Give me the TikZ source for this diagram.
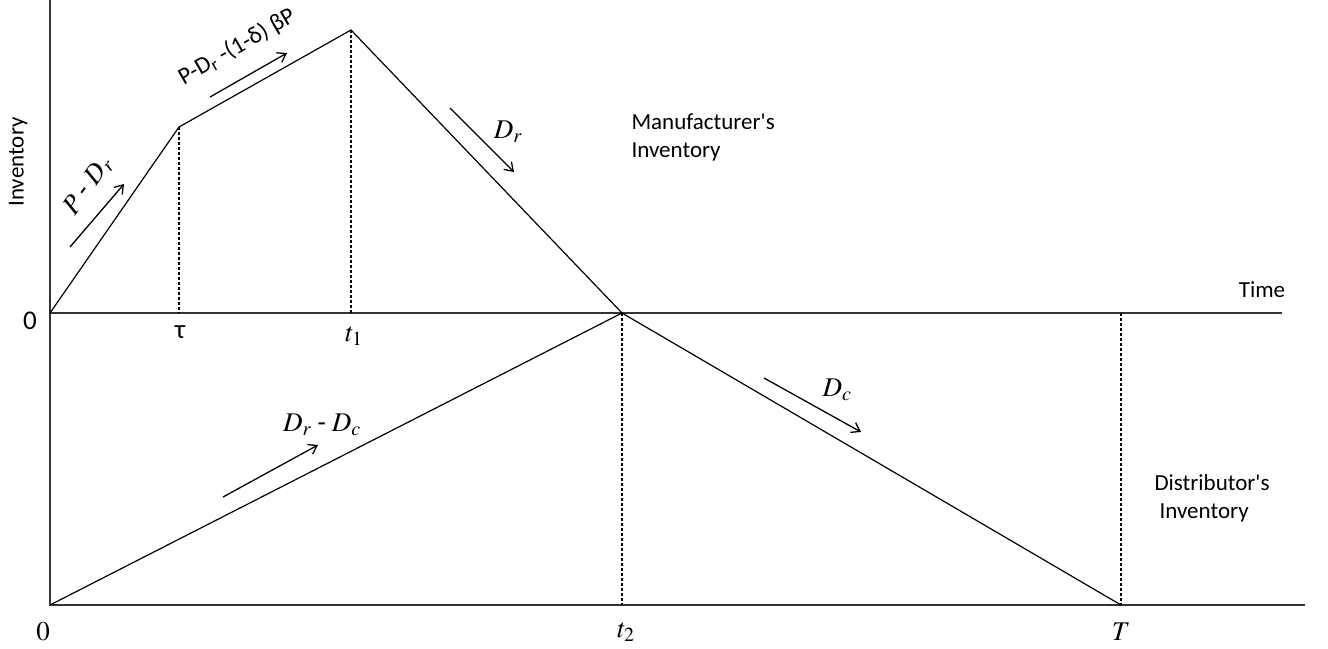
\documentclass[tikz,border=0pt]{standalone}
\usepackage{mathptmx}
\usepackage[no-math]{fontspec}
\setmainfont{Carlito}
\usetikzlibrary{arrows.meta}
\tikzset{
  % axes and lines
  axis/.style={line width=1.4pt,draw=black!80},
  curve/.style={line width=1.2pt},
  guide/.style={dashed,dash pattern=on 3pt off 2pt,line width=1.1pt},
  flow/.style={-{Straight Barb[length=8pt,width=11pt]},line width=1.3pt},
  % label styles
  txt/.style={font=\fontsize{23}{28}\selectfont},
  sym/.style={font=\fontsize{27}{30}\selectfont}
}

\begin{document}
\begin{tikzpicture}[x=1pt,y=-1pt]
  \useasboundingbox (0,0) rectangle (1328,648);

  % key points
  \coordinate (yTop) at (50,0);
  \coordinate (O1)   at (50,313);
  \coordinate (O2)   at (50,605);
  \coordinate (xEnd) at (1282,313);
  \coordinate (bEnd) at (1305,605);
  \coordinate (tauP) at (179,127);
  \coordinate (peak) at (351,30);
  \coordinate (t2P)  at (622,313);
  \coordinate (TP)   at (1121,605);

  % axes
  \draw[axis] (yTop) -- (O2) -- (bEnd);
  \draw[axis] (O1) -- (xEnd);

  % inventory levels
  \draw[curve] (O1) -- (tauP) -- (peak) -- (t2P);
  \draw[curve] (O2) -- (t2P) -- (TP);

  % guides
  \draw[guide] (tauP) -- (tauP |- O1);
  \draw[guide] (peak) -- (peak |- O1);
  \draw[guide] (t2P) -- (t2P |- O2);
  \draw[guide] (TP |- O1) -- (TP);

  % rate arrows
  \coordinate (a1) at (70,247);   \coordinate (b1) at (124,184);
  \coordinate (a2) at (210,97);   \coordinate (b2) at (287,53);
  \coordinate (a3) at (450,108);  \coordinate (b3) at (514,172);
  \coordinate (a4) at (223,497);  \coordinate (b4) at (318,445);
  \coordinate (a5) at (764,378);  \coordinate (b5) at (861,432);
  \draw[flow] (a1) -- (b1);
  \draw[flow] (a2) -- (b2);
  \draw[flow] (a3) -- (b3);
  \draw[flow] (a4) -- (b4);
  \draw[flow] (a5) -- (b5);

  % rate labels
  \node[sym,rotate=55] (rUp)   at (88,186)  {$P$ - $D_{r}$};
  \node[txt,rotate=30,font=\fontsize{24}{28}\selectfont] (rProd) at (237,47) {P-D\textsubscript{r} -(1-δ) βP};
  \node[sym]           (rDr)   at (508,132) {$D_{r}$};
  \node[sym]           (rDrc)  at (322,425) {$D_{r}$ - $D_{c}$};
  \node[sym]           (rDc)   at (837,390) {$D_{c}$};

  % region labels
  \node[txt,anchor=west,align=left] (man) at (628,137) {Manufacturer\textquotesingle s\\Inventory};
  \node[txt,anchor=west,align=left] (dis) at (1151,498) {Distributor\textquotesingle s\\\hspace{5pt}Inventory};
  \node[txt,rotate=90] (inv)  at (18,162)   {Inventory};
  \node[txt]           (time) at (1262,290) {Time};

  % ticks
  \node[sym] (z1)   at (30,321)   {0};
  \node[sym] (tau)  at (180,332)  {τ};
  \node[sym] (t1)   at (354,336)  {$t_{1}$};
  \node[sym] (z2)   at (43,632)   {$0$};
  \node[sym] (t2)   at (626,632)  {$t_{2}$};
  \node[sym] (Tend) at (1121,632) {$T$};
\end{tikzpicture}
\end{document}
